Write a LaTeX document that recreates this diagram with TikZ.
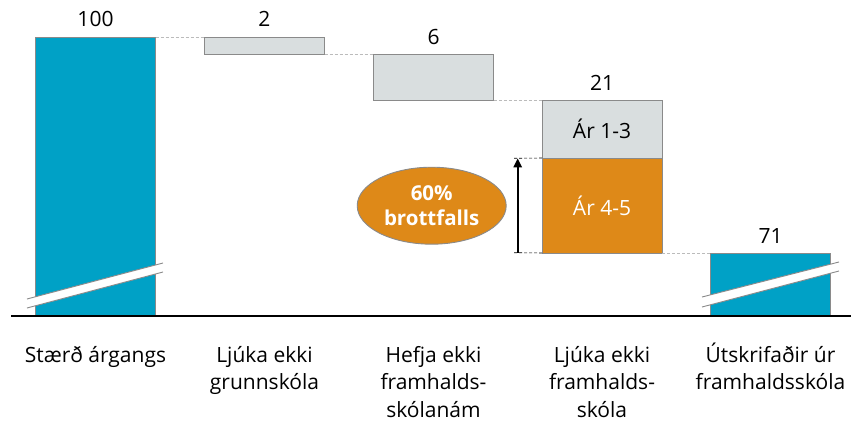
\documentclass[tikz,border=0pt]{standalone}
\usepackage{fontspec}
\setmainfont{Open Sans}
\usetikzlibrary{shapes.geometric,arrows.meta}
\definecolor{barblue}{HTML}{00A1C6}
\definecolor{barorange}{HTML}{DE8918}
\definecolor{bargray}{HTML}{D9DEDF}
\definecolor{edgegray}{HTML}{8A8A8A}
\definecolor{dashgray}{HTML}{BBBBBB}
\tikzset{
  bar/.style={draw=edgegray, line width=0.9pt, minimum width=120pt, inner sep=0pt, outer sep=0pt},
  val/.style={font=\fontsize{21}{24}\selectfont, inner sep=0pt},
  cat/.style={font=\fontsize{21}{27.7}\selectfont, align=center, inner sep=0pt, anchor=base},
  link/.style={draw=dashgray, dashed, dash pattern=on 3pt off 2pt, line width=0.6pt},
  blink/.style={draw=black, dashed, dash pattern=on 3pt off 2pt, line width=0.6pt},
  brk/.style={draw=edgegray, line width=0.9pt}
}
\begin{document}
\begin{tikzpicture}[x=1pt,y=-1pt]
\useasboundingbox (0,0) rectangle (851,428);
% bars
\node[bar, fill=barblue, minimum height=279pt] (b1) at (95.5,176.5) {};
\node[bar, fill=bargray, minimum height=17pt] (b2) at (264.5,45.5) {};
\node[bar, fill=bargray, minimum height=46pt] (b3) at (433.5,77) {};
\node[bar, fill=bargray, minimum height=58pt, font=\fontsize{21}{24}\selectfont] (b4a) at (602,129) {Ár 1-3};
\node[bar, fill=barorange, minimum height=95pt, text=white, font=\fontsize{21}{24}\selectfont] (b4b) at (602,205.5) {Ár 4-5};
\node[bar, fill=barblue, minimum height=63pt] (b5) at (770.5,284.5) {};
% axis
\coordinate (axL) at (11,316);
\coordinate (axR) at (851,316);
\draw[black, line width=1.2pt] (axL) -- (axR);
% breaks
\fill[white] (27,299) -- (163,263) -- (163,272) -- (27,308) -- cycle;
\draw[brk] (27,299) -- (163,263);
\draw[brk] (27,308) -- (163,272);
\fill[white] (702,297) -- (839,262) -- (839,271) -- (702,307) -- cycle;
\draw[brk] (702,297) -- (839,262);
\draw[brk] (702,307) -- (839,271);
% connectors
\draw[link] (b1.north east) -- (b2.north west);
\draw[link] (b2.south east) -- (b3.north west |- b2.south east);
\draw[link] (b3.south east) -- (b4a.north west);
\draw[link] (b4b.south east) -- (b5.north west);
% values
\node[val] (v1) at (95.5,19) {100};
\node[val] (v2) at (264.5,19) {2};
\node[val] (v3) at (433.5,37) {6};
\node[val] (v4) at (602,83) {21};
\node[val] (v5) at (770.5,236) {71};
% arrow
\coordinate (aTop) at (514,158.3);
\coordinate (aBot) at (514,252.7);
\draw[blink] (aTop) -- (b4b.north west);
\draw[blink] (aBot) -- (b4b.south west);
\draw[line width=2.4pt, -{Triangle[length=9pt,width=8pt]}] (aBot -| 517.7,0) -- (aTop -| 517.7,0);
% ellipse
\node[ellipse, draw=edgegray, line width=0.9pt, fill=barorange, minimum width=149pt, minimum height=77pt, inner sep=0pt,
  text=white, font=\fontsize{20.5}{25}\selectfont\bfseries, align=center] (e) at (431.7,205.7) {60\%\\brottfalls};
% categories (anchor base = last line baseline)
\node[cat] (c1) at (95.5,362) {Stærð árgangs};
\node[cat] (c2) at (264.5,389.7) {Ljúka ekki\\grunnskóla};
\node[cat] (c3) at (433.5,417.4) {Hefja ekki\\framhalds-\\skólanám};
\node[cat] (c4) at (602,417.4) {Ljúka ekki\\framhalds-\\skóla};
\node[cat] (c5) at (770.5,389.7) {Útskrifaðir úr\\framhaldsskóla};
\end{tikzpicture}
\end{document}
